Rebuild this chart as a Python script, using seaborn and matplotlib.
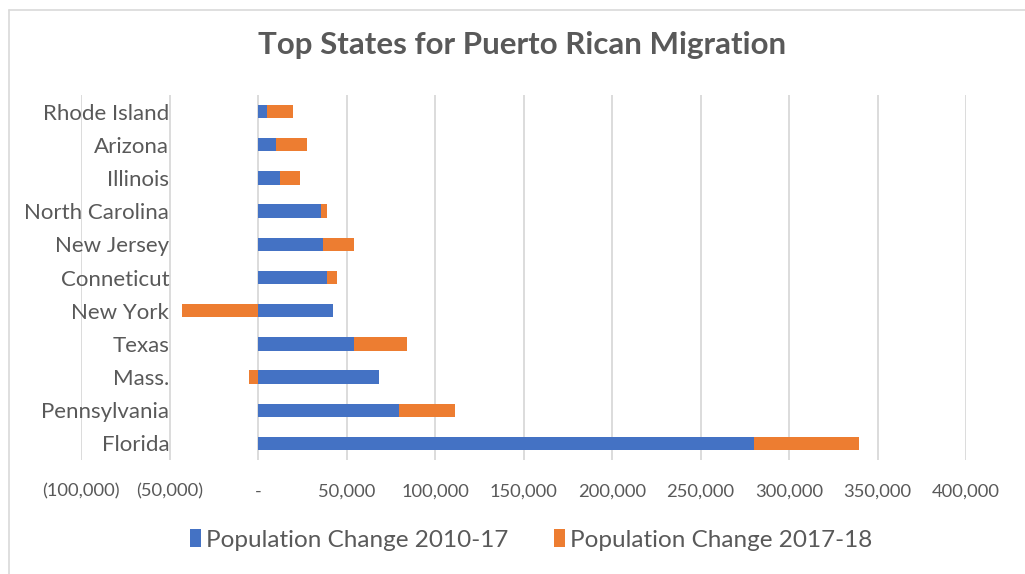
import matplotlib
matplotlib.use("Agg")
import matplotlib.pyplot as plt
import seaborn as sns
import pandas as pd
from matplotlib.ticker import FuncFormatter
from matplotlib.lines import Line2D
from matplotlib.patches import Patch

states = ["Rhode Island", "Arizona", "Illinois", "North Carolina", "New Jersey",
          "Conneticut", "New York", "Texas", "Mass.", "Pennsylvania", "Florida"]
change_2010_17 = [5000, 10000, 12300, 35600, 36700, 39000, 42300, 54200, 68300, 79600, 280000]
change_2017_18 = [14700, 17500, 11300, 3400, 17500, 5600, -42900, 29900, -5100, 31600, 59300]
series_names = ["Population Change 2010-17", "Population Change 2017-18"]
x_ticks = [-100000, -50000, 0, 50000, 100000, 150000, 200000, 250000, 300000, 350000, 400000]

BLUE = "#4472C4"
ORANGE = "#ED7D31"
GRAY = "#595959"

sns.set_theme(style="white")
plt.rcParams["font.family"] = ["Lato", "DejaVu Sans"]

df = pd.DataFrame({"state": states, "a": change_2010_17, "b": change_2017_18})
# stacked offset for second series (Excel-style: positives stack on positives, negatives from zero)
df["b_left"] = [a if b >= 0 else 0 for a, b in zip(df["a"], df["b"])]

fig = plt.figure(figsize=(10.25, 5.74), dpi=100)
ax = fig.add_axes([81 / 1025, 1 - 460 / 574, (966 - 81) / 1025, (460 - 95) / 574])

sns.barplot(data=df, y="state", x="a", color=BLUE, orient="h", width=0.4,
            ax=ax, saturation=1, zorder=3, linewidth=0, edgecolor="none")
ax.barh(range(len(states)), df["b"], left=df["b_left"], height=0.4, color=ORANGE,
        zorder=3, linewidth=0, edgecolor="none")

ax.set_xlim(-100000, 400000)
ax.set_ylim(len(states) - 0.5, -0.5)
ax.set_xticks(x_ticks)

def fmt(v, pos):
    if v == 0:
        return "-"
    if v < 0:
        return "({:,.0f})".format(-v)
    return "{:,.0f}".format(v)

ax.xaxis.set_major_formatter(FuncFormatter(fmt))
ax.grid(axis="x", color="#D9D9D9", linewidth=1.3, zorder=0)
ax.grid(axis="y", visible=False)
for s in ax.spines.values():
    s.set_visible(False)
ax.set_xlabel("")
ax.set_ylabel("")
ax.tick_params(axis="x", length=0, pad=17, labelsize=13.2, labelcolor=GRAY)
ax.tick_params(axis="y", length=0, pad=-63.5, labelsize=16, labelcolor=GRAY)
for lab in ax.get_yticklabels():
    lab.set_zorder(5)

fig.text(0.509, 1 - 45 / 574, "Top States for Puerto Rican Migration", ha="center", va="center",
         fontsize=22.5, fontweight="bold", color=GRAY)

handles = [Patch(facecolor=BLUE, edgecolor="none"), Patch(facecolor=ORANGE, edgecolor="none")]
fig.legend(handles, series_names, loc="center", bbox_to_anchor=(0.518, 1 - 540 / 574), ncol=2,
           frameon=False, fontsize=17.5, labelcolor=GRAY, handlelength=0.45, handleheight=0.7,
           handletextpad=0.2, columnspacing=1.9)

# chart border (top and left visible in reference)
fig.add_artist(Line2D([9 / 1025, 1], [1 - 10 / 574, 1 - 10 / 574], color="#D9D9D9", linewidth=1.2))
fig.add_artist(Line2D([9 / 1025, 9 / 1025], [0, 1 - 10 / 574], color="#D9D9D9", linewidth=1.2))

fig.savefig("out.png", dpi=100, facecolor="white")
